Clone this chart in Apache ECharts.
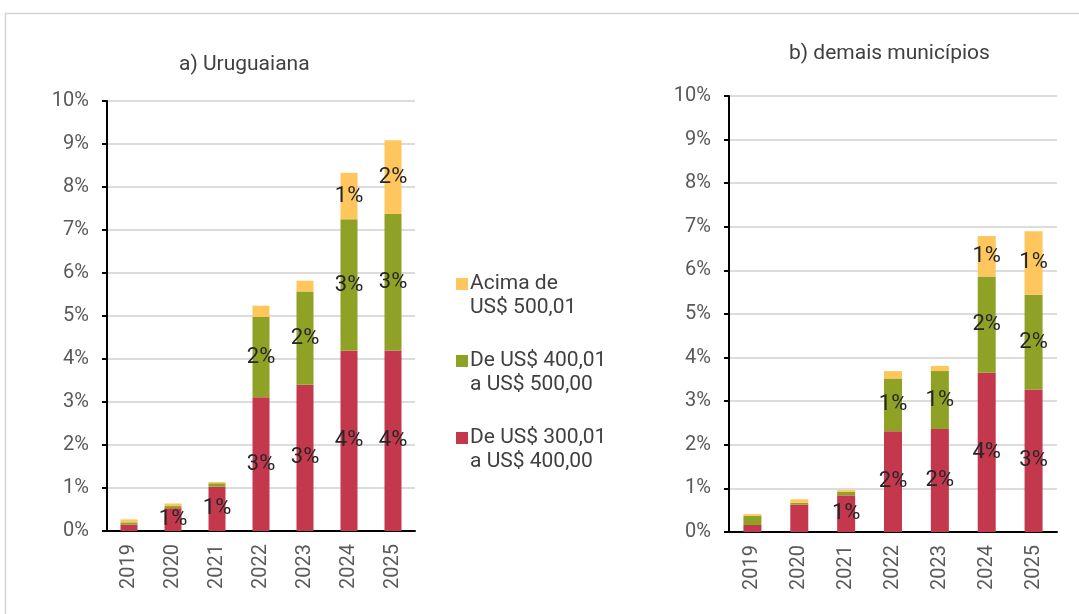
<!DOCTYPE html>
<html>
<head>
<meta charset="utf-8">
<script src="https://cdn.jsdelivr.net/npm/echarts@6/dist/echarts.min.js"></script>
<style>
  html, body { margin: 0; padding: 0; background: #fff; }
  #main { width: 1079px; height: 614px; }
</style>
</head>
<body>
<div id="main"></div>
<script>
const years = ['2019', '2020', '2021', '2022', '2023', '2024', '2025'];
const yTicks = [0, 1, 2, 3, 4, 5, 6, 7, 8, 9, 10];
const seriesNames = ['De US$ 300,01\na US$ 400,00', 'De US$ 400,01\na US$ 500,00', 'Acima de\nUS$ 500,01'];

// a) Uruguaiana (%)
const uruRed = [0.15, 0.53, 1.03, 3.11, 3.40, 4.19, 4.20];
const uruGreen = [0.05, 0.05, 0.08, 1.87, 2.17, 3.06, 3.17];
const uruYellow = [0.07, 0.06, 0.03, 0.26, 0.25, 1.08, 1.72];
// which bars carry a value label
const uruRedLbl = [0, 1, 1, 1, 1, 1, 1];
const uruGreenLbl = [0, 0, 0, 1, 1, 1, 1];
const uruYellowLbl = [0, 0, 0, 0, 0, 1, 1];

// b) demais municípios (%)
const demRed = [0.16, 0.63, 0.84, 2.31, 2.36, 3.65, 3.27];
const demGreen = [0.21, 0.04, 0.08, 1.21, 1.33, 2.21, 2.17];
const demYellow = [0.04, 0.08, 0.04, 0.17, 0.12, 0.93, 1.46];
const demRedLbl = [0, 0, 1, 1, 1, 1, 1];
const demGreenLbl = [0, 0, 0, 1, 1, 1, 1];
const demYellowLbl = [0, 0, 0, 0, 0, 1, 1];

const colors = ['#C4384E', '#8FA226', '#FEC65C'];

const chart = echarts.init(document.getElementById('main'));

function withLabels(values, flags) {
  return values.map((v, i) => ({
    value: v,
    label: { show: !!flags[i] },
  }));
}

function makeSeries(name, color, values, flags, idx, stack, width) {
  return {
    name: name,
    type: 'bar',
    stack: stack,
    xAxisIndex: idx,
    yAxisIndex: idx,
    barWidth: width,
    itemStyle: { color: color },
    label: {
      position: 'inside',
      color: '#262626',
      fontFamily: 'Roboto',
      fontSize: 22,
      formatter: (p) => Math.round(p.value) + '%',
    },
    data: withLabels(values, flags),
  };
}

function xAxisOf(idx) {
  return {
    type: 'category',
    gridIndex: idx,
    data: years,
    axisLine: { lineStyle: { color: '#000', width: 2 } },
    axisTick: { length: 6, lineStyle: { color: '#000', width: 2 } },
    axisLabel: {
      rotate: 90,
      margin: 13,
      color: '#595959',
      fontFamily: 'Roboto',
      fontSize: 20,
    },
  };
}

function yAxisOf(idx) {
  return {
    type: 'value',
    gridIndex: idx,
    min: yTicks[0],
    max: yTicks[yTicks.length - 1],
    interval: 1,
    axisLine: { show: true, lineStyle: { color: '#000', width: 2 } },
    axisTick: { show: true, length: 5, lineStyle: { color: '#000', width: 2 } },
    axisLabel: {
      margin: 18,
      color: '#595959',
      fontFamily: 'Roboto',
      fontSize: 20,
      formatter: '{value}%',
    },
    splitLine: { lineStyle: { color: '#d0d0d0', width: 1.5 } },
  };
}

const option = {
  backgroundColor: '#fff',
  animation: false,
  graphic: [{
    type: 'rect',
    shape: { x: 5.5, y: 13.5, width: 1100, height: 700 },
    style: { fill: 'none', stroke: '#d4d4d4', lineWidth: 1.5 },
    silent: true,
  }],
  title: [
    {
      text: 'a) Uruguaiana',
      left: 174,
      top: 49,
      textStyle: { fontFamily: 'Roboto', fontSize: 21, fontWeight: 'normal', color: '#404040' },
    },
    {
      text: 'b) demais municípios',
      left: 784,
      top: 38,
      textStyle: { fontFamily: 'Roboto', fontSize: 21, fontWeight: 'normal', color: '#404040' },
    },
  ],
  legend: {
    orient: 'vertical',
    left: 451,
    top: 243,
    itemWidth: 12,
    itemHeight: 12,
    itemGap: 5,
    icon: 'rect',
    data: [seriesNames[2], seriesNames[1], seriesNames[0]],
    formatter: (name) => '\n' + name,
    textStyle: {
      fontFamily: 'Roboto',
      fontSize: 21,
      lineHeight: 24,
      color: '#404040',
      padding: [0, 0, 0, -3],
    },
  },
  grid: [
    { left: 107, right: 664, top: 101, bottom: 83 },
    { left: 729, right: 22, top: 96, bottom: 82 },
  ],
  xAxis: [xAxisOf(0), xAxisOf(1)],
  yAxis: [yAxisOf(0), yAxisOf(1)],
  series: [
    makeSeries(seriesNames[0], colors[0], uruRed, uruRedLbl, 0, 'a', 17),
    makeSeries(seriesNames[1], colors[1], uruGreen, uruGreenLbl, 0, 'a', 17),
    makeSeries(seriesNames[2], colors[2], uruYellow, uruYellowLbl, 0, 'a', 17),
    makeSeries(seriesNames[0], colors[0], demRed, demRedLbl, 1, 'b', 18),
    makeSeries(seriesNames[1], colors[1], demGreen, demGreenLbl, 1, 'b', 18),
    makeSeries(seriesNames[2], colors[2], demYellow, demYellowLbl, 1, 'b', 18),
  ],
};

chart.setOption(option);
</script>
</body>
</html>
